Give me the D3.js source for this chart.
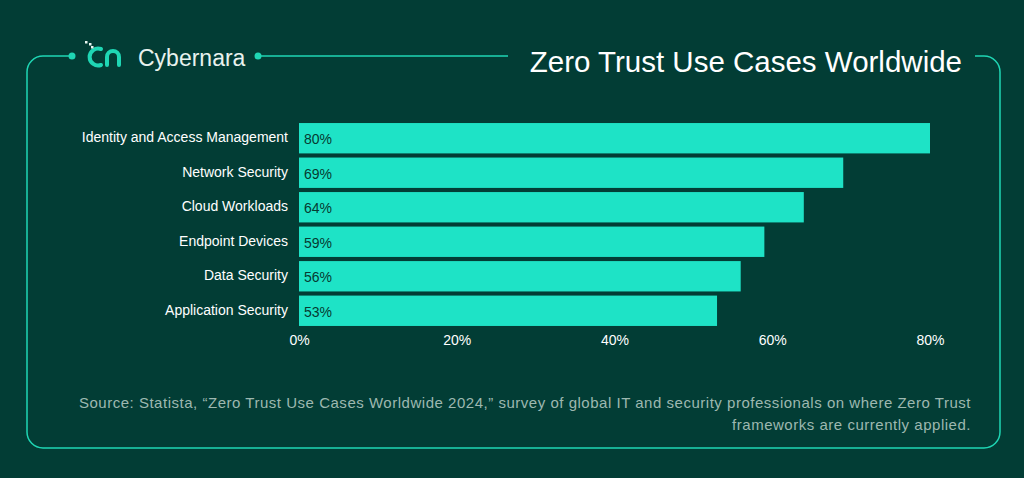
<!DOCTYPE html>
<html lang="en">
<head>
<meta charset="UTF-8">
<title>Zero Trust Use Cases Worldwide</title>
<script src="https://d3js.org/d3.v7.min.js"></script>
<style>
  body { margin: 0; background: #023d35; }
  text { font-family: "Helvetica Neue", "Liberation Sans", Arial, sans-serif; }
</style>
</head>
<body>
<script>
var categories = ["Identity and Access Management", "Network Security", "Cloud Workloads",
                  "Endpoint Devices", "Data Security", "Application Security"];
var values = [80, 69, 64, 59, 56, 53];
var ticks = [0, 20, 40, 60, 80];
var sourceLines = [
  "Source: Statista, \u201cZero Trust Use Cases Worldwide 2024,\u201d survey of global IT and security professionals on where Zero Trust",
  "frameworks are currently applied."
];

var width = 1024, height = 478;
var accent = "#1fd6b4";

var svg = d3.select("body").append("svg")
    .attr("width", width).attr("height", height);

svg.append("rect").attr("width", width).attr("height", height).attr("fill", "#023d35");

// frame
var r = 16, L = 27, R = 1000, T = 56, B = 448;
var frame = d3.path();
frame.moveTo(72, T); frame.lineTo(L + r, T); frame.arcTo(L, T, L, T + r, r);
frame.lineTo(L, B - r); frame.arcTo(L, B, L + r, B, r);
frame.lineTo(R - r, B); frame.arcTo(R, B, R, B - r, r);
frame.lineTo(R, T + r); frame.arcTo(R, T, R - r, T, r);
frame.lineTo(975, T);
svg.append("path").attr("d", frame.toString()).attr("fill", "none")
    .attr("stroke", accent).attr("stroke-width", 1.5);
svg.append("line").attr("x1", 258).attr("x2", 508).attr("y1", T).attr("y2", T)
    .attr("stroke", accent).attr("stroke-width", 1.5);
svg.append("circle").attr("cx", 72).attr("cy", T).attr("r", 3.5).attr("fill", accent);
svg.append("circle").attr("cx", 258).attr("cy", T).attr("r", 3.5).attr("fill", accent);

// logo
var logo = svg.append("g").attr("transform", "translate(88,45)");
logo.append("path").attr("d", "M13,4 A8.5,8.5 0 1 0 13,20")
    .attr("fill", "none").attr("stroke", accent).attr("stroke-width", 4).attr("stroke-linecap", "round");
logo.append("path").attr("d", "M19,20 L19,12 A6,6 0 0 1 31,12 L31,20")
    .attr("fill", "none").attr("stroke", accent).attr("stroke-width", 4).attr("stroke-linecap", "round");
[[-3,-4],[1,-2],[3,1]].forEach(function (p) {
  logo.append("rect").attr("x", p[0]).attr("y", p[1]).attr("width", 2.5).attr("height", 2.5).attr("fill", "#e8f5f0");
});
svg.append("text").attr("x", 138).attr("y", 66).attr("fill", "#e8f2ee")
    .attr("font-size", 23).text("Cybernara");

svg.append("text").attr("x", 962).attr("y", 72).attr("text-anchor", "end")
    .attr("fill", "#ffffff").attr("font-size", 29.5).text("Zero Trust Use Cases Worldwide");

// chart
var x = d3.scaleLinear().domain([0, 80]).range([299, 930]);
var y = d3.scaleBand().domain(categories).range([122, 327]).paddingInner(0.12).paddingOuter(0.03);

svg.selectAll(".bar").data(categories).enter().append("rect")
    .attr("x", x(0)).attr("y", function (d) { return y(d); })
    .attr("width", function (d, i) { return x(values[i]) - x(0); })
    .attr("height", y.bandwidth()).attr("fill", "#1ee3c6");

svg.selectAll(".val").data(categories).enter().append("text")
    .attr("x", x(0) + 5).attr("y", function (d) { return y(d) + y.bandwidth() / 2 + 1; })
    .attr("dy", "0.36em").attr("font-size", 14).attr("fill", "#063a31")
    .text(function (d, i) { return values[i] + "%"; });

svg.selectAll(".cat").data(categories).enter().append("text")
    .attr("x", 288).attr("y", function (d) { return y(d) + y.bandwidth() / 2 - 1; })
    .attr("dy", "0.36em").attr("text-anchor", "end").attr("font-size", 14).attr("fill", "#ffffff")
    .text(function (d) { return d; });

var xAxis = d3.axisBottom(x).tickValues(ticks).tickSize(0).tickPadding(0)
    .tickFormat(function (d) { return d + "%"; });
var ax = svg.append("g").attr("transform", "translate(0,334)").call(xAxis);
ax.select(".domain").remove();
ax.selectAll("text").attr("font-size", 14).attr("fill", "#ffffff").attr("dy", "0.75em");

svg.selectAll(".src").data(sourceLines).enter().append("text")
    .attr("x", 971).attr("y", function (d, i) { return 408 + i * 22; })
    .attr("text-anchor", "end").attr("font-size", 15).attr("letter-spacing", 0.52).attr("fill", "#9db8b0")
    .text(function (d) { return d; });
</script>
</body>
</html>
